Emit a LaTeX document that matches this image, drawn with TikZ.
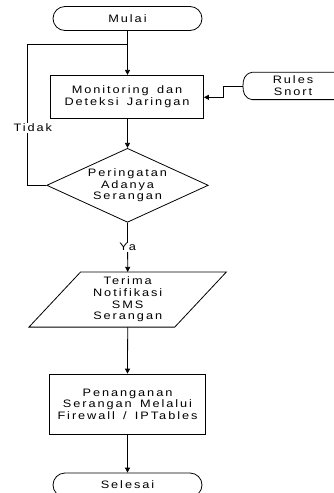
\documentclass[tikz,border=0pt]{standalone}
\usepackage{fontspec}
\setmainfont{Liberation Sans}[FakeStretch=1.18,LetterSpace=18,WordSpace=1.5]
\usetikzlibrary{arrows.meta,shapes.geometric,shapes.misc,calc}
\tikzset{
  term/.style={draw, rounded rectangle, minimum width=149pt, minimum height=24pt, inner sep=0pt},
  proc/.style={draw, rectangle, align=center, inner sep=0pt},
  lbl/.style={fill=white, inner sep=1pt},
  txt/.style={align=center, inner sep=0pt},
  conn/.style={-{Triangle[length=5pt,width=5pt]}}
}
\begin{document}
\begin{tikzpicture}[x=1pt, y=-1pt, line width=0.8pt, font=\fontsize{10.8}{11.7}\selectfont]
\useasboundingbox (0,0) rectangle (333,493);
% nodes
\node[term] (start) at (127.5,18.5) {Mulai};
\node[proc, minimum width=153pt, minimum height=43pt] (mon) at (127,96.8) {Monitoring dan\\Deteksi Jaringan};
\node[draw, diamond, minimum width=161.6pt, minimum height=74pt, inner sep=0pt] (dec) at (127.5,185.3) {};
\node[txt] (dectext) at (127.5,185.5) {Peringatan\\Adanya\\Serangan};
\node[txt, minimum width=145pt, minimum height=54.4pt] (notif) at (127.7,299.5) {Terima\\Notifikasi\\SMS\\Serangan};
\draw ([xshift=25.85pt]notif.north west) -- ([xshift=25.85pt]notif.north east)
   -- ([xshift=-25.85pt]notif.south east) -- ([xshift=-25.85pt]notif.south west) -- cycle;
\node[proc, minimum width=156.4pt, minimum height=60.3pt] (pen) at (127.5,404.2) {Penanganan\\Serangan Melalui\\Firewall / IPTables};
\node[term] (end) at (127.5,485) {Selesai};
% Rules Snort (stored data)
\node[txt] (rules) at (293,85.5) {Rules\\Snort};
\coordinate (rs) at (243,86);
\draw (345,72.3) -- (252,72.3) .. controls (244,74) and (243,80) .. (rs)
      .. controls (243,92) and (244,98) .. (252,99.6) -- (345,99.6);
% connectors
\coordinate (j) at (127.5,44);
\draw[conn] (start.south) -- (start.south |- mon.north);
\draw (dec.west) -| (27,44) -- (j);
\node[lbl] (tidak) at (32.8,128) {Tidak};
\draw[conn] (dec.north |- mon.south) -- (dec.north);
\draw[conn] (dec.south) -- (notif.north) node[lbl, midway] (ya) {Ya};
\draw[conn] (notif.south) -- (pen.north);
\draw[conn] (pen.south) -- (end.north);
\coordinate (bend) at (223,97.3);
\draw[conn] (rs) -| (bend) -- (mon.east |- bend);
\end{tikzpicture}
\end{document}
